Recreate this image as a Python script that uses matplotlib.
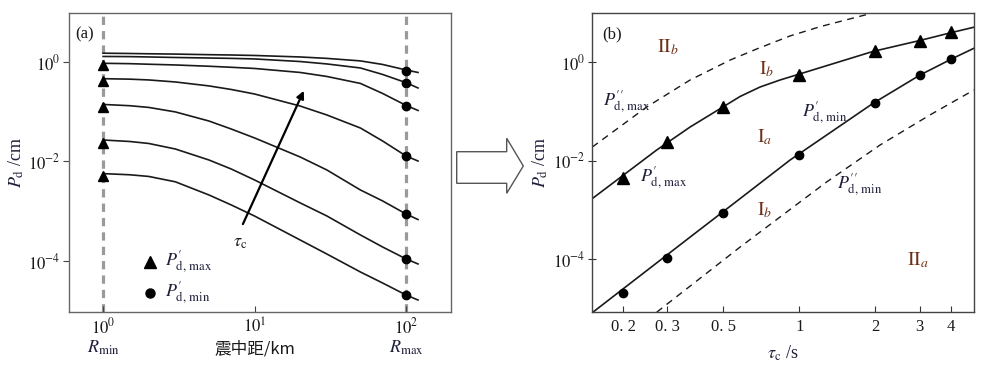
import numpy as np
import matplotlib
matplotlib.use("Agg")
import matplotlib.pyplot as plt
from matplotlib.patches import Polygon

plt.rcParams['font.family'] = ['Liberation Serif', 'Noto Sans CJK SC', 'DejaVu Sans']
plt.rcParams['mathtext.fontset'] = 'stix'

# ---- panel (a): Pd vs epicentral distance ----
dist = [1, 1.5, 2, 3, 5, 7, 10, 20, 30, 50, 70, 100, 120]
curves_a = [
    [1.50, 1.48, 1.46, 1.44, 1.40, 1.38, 1.35, 1.26, 1.18, 1.05, 0.891, 0.69, 0.615],
    [1.29, 1.28, 1.26, 1.23, 1.20, 1.18, 1.15, 1.02, 0.912, 0.757, 0.561, 0.384, 0.30],
    [0.94, 0.924, 0.90, 0.87, 0.82, 0.782, 0.74, 0.615, 0.511, 0.37, 0.233, 0.134, 0.106],
    [0.461, 0.451, 0.435, 0.396, 0.33, 0.280, 0.227, 0.13, 0.086, 0.047, 0.0258, 0.0129, 0.0102],
    [0.14, 0.132, 0.122, 0.099, 0.065, 0.045, 0.0297, 0.0123, 0.00675, 0.00267, 0.00161,
     0.00088, 0.00068],
    [0.027, 0.0252, 0.023, 0.0178, 0.0107, 0.00707, 0.00425, 0.00147, 8.03e-4, 3.33e-4,
     1.91e-4, 1.1e-4, 8.7e-5],
    [0.0057, 0.0054, 0.0050, 0.0039, 0.00212, 0.00134, 0.0008, 2.64e-4, 1.38e-4, 6.0e-5,
     3.61e-5, 2.07e-5, 1.64e-5],
]
tri_a = [0.87, 0.42, 0.126, 0.0239, 0.005]          # P'd,max at Rmin
dot_a = [0.66, 0.38, 0.13, 0.0129, 8.8e-4, 1.1e-4, 2.1e-5]  # P'd,min at Rmax
r_min, r_max = 1, 100

# ---- panel (b): Pd vs tau_c ----
tau = [0.2, 0.3, 0.5, 1, 2, 3, 4]
pmax_pts = [0.0044, 0.0238, 0.125, 0.56, 1.72, 2.71, 4.06]
pmin_pts = [2.1e-5, 1.07e-4, 8.7e-4, 0.0131, 0.149, 0.55, 1.17]
pmax_line_t = [0.151, 0.272, 0.369, 0.5, 0.582, 0.699, 0.839, 0.988, 1.96, 3.01, 3.96, 4.92]
pmax_line_v = [0.00171, 0.0166, 0.0486, 0.1255, 0.202, 0.315, 0.437, 0.565, 1.66, 2.77,
               3.94, 5.14]
pmin_line_t = [0.151, 0.369, 0.582, 0.919, 1.96, 3.01, 4.07, 4.92]
pmin_line_v = [8.3e-6, 2.84e-4, 0.00171, 0.0104, 0.147, 0.552, 1.21, 1.92]
pmax2_t = [0.151, 0.249, 0.369, 0.532, 0.678, 0.919, 1.21, 1.94]
pmax2_v = [0.019, 0.125, 0.437, 1.11, 1.86, 3.42, 5.28, 9.9]
pmin2_t = [0.272, 0.582, 1.28, 2.09, 3.29, 4.92]
pmin2_v = [8.5e-6, 1.78e-4, 3.7e-3, 0.021, 0.085, 0.274]

ink = '#1a1a1a'
txtc = '#1f1f3a'
regc = '#6e3018'

fig = plt.figure(figsize=(9.92, 3.67), dpi=100)
ax1 = fig.add_axes([0.0696, 0.150, 0.385, 0.8147])
ax2 = fig.add_axes([0.597, 0.150, 0.3848, 0.8147])

# panel (a)
ax1.set_xscale('log')
ax1.set_yscale('log')
ax1.set_xlim(0.596, 198)
ax1.set_ylim(9.44e-6, 9.66)
for x in (r_min, r_max):
    ax1.axvline(x, color='#9a9a9a', lw=2.3, dashes=(2.6, 1.9), zorder=1)
for c in curves_a:
    ax1.plot(dist, c, color=ink, lw=1.2, zorder=2)
ax1.plot([r_min] * len(tri_a), tri_a, '^', color='black', ms=7.5, zorder=3)
ax1.plot([r_max] * len(dot_a), dot_a, 'o', color='black', ms=6, zorder=3)
ax1.annotate('', xy=(21.5, 0.296), xytext=(8.23, 4.9e-4),
             arrowprops=dict(arrowstyle='-|>', color='black', lw=1.6, mutation_scale=11))
ax1.text(8.0, 2.3e-4, r'$\tau_{\mathrm{c}}$', fontsize=13, ha='center', va='center', color=ink)
ax1.text(0.015, 0.955, '(a)', transform=ax1.transAxes, fontsize=12, va='top', color=ink)
ax1.plot([0.213], [0.167], '^', color='black', ms=8, transform=ax1.transAxes, clip_on=False)
ax1.plot([0.213], [0.064], 'o', color='black', ms=6.5, transform=ax1.transAxes, clip_on=False)
ax1.text(0.252, 0.167, r"$P_{\mathrm{d,\,max}}^{\prime}$", transform=ax1.transAxes,
         fontsize=13, va='center', color=txtc)
ax1.text(0.252, 0.064, r"$P_{\mathrm{d,\,min}}^{\prime}$", transform=ax1.transAxes,
         fontsize=13, va='center', color=txtc)
ax1.set_xticks([1, 10, 100])
ax1.set_xticklabels([r'$10^{0}$', r'$10^{1}$', r'$10^{2}$'])
ax1.xaxis.set_minor_locator(matplotlib.ticker.NullLocator())
ax1.set_yticks([1, 1e-2, 1e-4])
ax1.set_yticklabels([r'$10^{0}$', r'$10^{-2}$', r'$10^{-4}$'])
ax1.yaxis.set_minor_locator(matplotlib.ticker.NullLocator())
ax1.tick_params(axis='x', direction='in', length=4, labelsize=12, pad=4, colors='#444444',
                labelcolor=ink)
ax1.tick_params(axis='y', direction='out', length=4, labelsize=12, pad=2, colors='#444444',
                labelcolor=ink)
xt = ax1.get_xaxis_transform()
ax1.text(r_min, -0.12, r'$R_{\mathrm{min}}$', transform=xt, ha='center', va='center',
         fontsize=13, color=txtc)
ax1.text(r_max, -0.12, r'$R_{\mathrm{max}}$', transform=xt, ha='center', va='center',
         fontsize=13, color=txtc)
ax1.text(10, -0.125, '震中距/km', transform=xt, ha='center', va='center', fontsize=12,
         color=ink, family=['Noto Sans CJK SC', 'DejaVu Sans'])
ax1.set_ylabel(r'$P_{\mathrm{d}}$ /cm', fontsize=13, color=txtc, labelpad=2)
for s in ax1.spines.values():
    s.set_color('#666666')
    s.set_linewidth(1.0)

# panel (b)
ax2.set_xscale('log')
ax2.set_yscale('log')
ax2.set_xlim(0.151, 4.92)
ax2.set_ylim(8.6e-6, 10.0)
ax2.plot(pmax2_t, pmax2_v, color=ink, lw=1.0, ls=(0, (5, 4)))
ax2.plot(pmin2_t, pmin2_v, color=ink, lw=1.0, ls=(0, (5, 4)))
ax2.plot(pmax_line_t, pmax_line_v, color=ink, lw=1.2)
ax2.plot(pmin_line_t, pmin_line_v, color=ink, lw=1.2)
ax2.plot(tau, pmax_pts, '^', color='black', ms=8.5)
ax2.plot(tau, pmin_pts, 'o', color='black', ms=6)
ax2.text(0.025, 0.955, '(b)', transform=ax2.transAxes, fontsize=12, va='top', color=ink)
ax2.text(0.30, 2.05, r'$\mathrm{II}_{b}$', fontsize=14, ha='center', va='center', color=regc)
ax2.text(0.74, 0.73, r'$\mathrm{I}_{b}$', fontsize=14, ha='center', va='center', color=regc)
ax2.text(0.73, 0.030, r'$\mathrm{I}_{a}$', fontsize=14, ha='center', va='center', color=regc)
ax2.text(0.73, 0.0010, r'$\mathrm{I}_{b}$', fontsize=14, ha='center', va='center', color=regc)
ax2.text(2.95, 9.7e-5, r'$\mathrm{II}_{a}$', fontsize=14, ha='center', va='center', color=regc)
ax2.text(0.167, 0.156, r"$P_{\mathrm{d,\,max}}^{\prime\prime}$", fontsize=13, ha='left',
         va='center', color=txtc)
ax2.text(0.234, 0.0045, r"$P_{\mathrm{d,\,max}}^{\prime}$", fontsize=13, ha='left',
         va='center', color=txtc)
ax2.text(1.025, 0.094, r"$P_{\mathrm{d,\,min}}^{\prime}$", fontsize=13, ha='left',
         va='center', color=txtc)
ax2.text(1.41, 0.0032, r"$P_{\mathrm{d,\,min}}^{\prime\prime}$", fontsize=13, ha='left',
         va='center', color=txtc)
ax2.set_xticks(tau)
ax2.set_xticklabels(['0. 2', '0. 3', '0. 5', '1', '2', '3', '4'])
ax2.xaxis.set_minor_locator(matplotlib.ticker.NullLocator())
ax2.set_yticks([1, 1e-2, 1e-4])
ax2.set_yticklabels([r'$10^{0}$', r'$10^{-2}$', r'$10^{-4}$'])
ax2.yaxis.set_minor_locator(matplotlib.ticker.NullLocator())
ax2.tick_params(axis='x', direction='in', length=4, labelsize=12, pad=5, colors='#333333',
                labelcolor=ink)
ax2.tick_params(axis='y', direction='inout', length=6, labelsize=12, pad=2, colors='#333333',
                labelcolor=ink)
ax2.set_xlabel(r'$\tau_{\mathrm{c}}$ /s', fontsize=13, color=txtc, labelpad=6)
ax2.set_ylabel(r'$P_{\mathrm{d}}$ /cm', fontsize=13, color=txtc, labelpad=2)
for s in ax2.spines.values():
    s.set_color('#444444')
    s.set_linewidth(1.0)

# hollow arrow between the panels
W, H = 992.0, 367.0
arrow_px = [(456.7, 151.7), (506.7, 151.7), (506.7, 138.3), (523.3, 166.0),
            (506.7, 193.3), (506.7, 183.3), (456.7, 183.3)]
fig.patches.append(Polygon([(x / W, 1 - y / H) for x, y in arrow_px], closed=True,
                           facecolor='white', edgecolor='#555555', lw=1.0,
                           transform=fig.transFigure))

fig.savefig('out.png', dpi=100)
